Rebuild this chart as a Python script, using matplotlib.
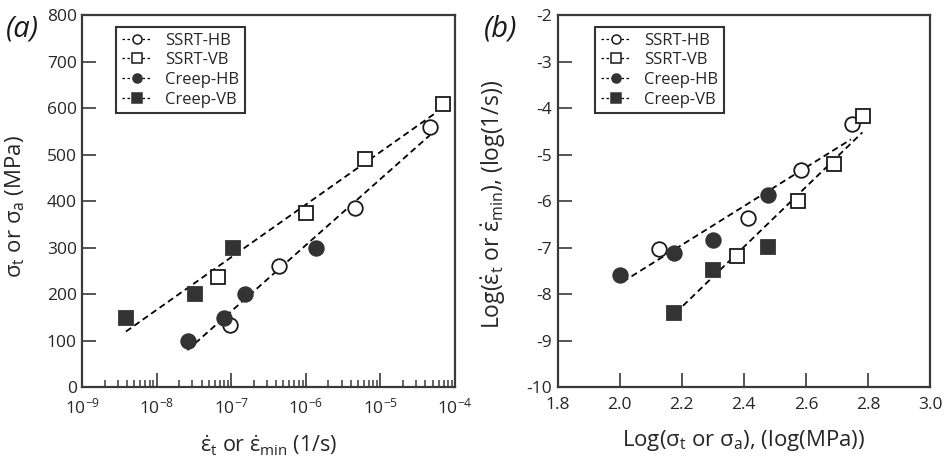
import numpy as np
import matplotlib
matplotlib.use('Agg')
import matplotlib.pyplot as plt
from matplotlib.lines import Line2D
from matplotlib.ticker import FixedLocator, LogLocator, NullFormatter

plt.rcParams['font.family'] = ['Open Sans', 'DejaVu Sans']
plt.rcParams['mathtext.default'] = 'regular'
plt.rcParams['axes.unicode_minus'] = False

# data (strain rate in 1/s, stress in MPa)
ssrt_hb_rate = [9.5e-8, 4.4e-7, 4.6e-6, 4.6e-5]
ssrt_hb_stress = [134, 260, 385, 560]
ssrt_vb_rate = [6.7e-8, 1.0e-6, 6.2e-6, 6.9e-5]
ssrt_vb_stress = [238, 375, 490, 610]
creep_hb_rate = [2.6e-8, 7.9e-8, 1.5e-7, 1.36e-6]
creep_hb_stress = [100, 150, 200, 300]
creep_vb_rate = [3.9e-9, 3.3e-8, 1.06e-7]
creep_vb_stress = [150, 200, 300]

# fitted trend lines
fit_a_upper_rate = [3.85e-9, 5.4e-5]
fit_a_upper_stress = [120, 589]
fit_a_lower_rate = [2.57e-8, 4.6e-5]
fit_a_lower_stress = [80, 542]
fit_b_hb_logs = [2.01, 2.745]
fit_b_hb_loge = [-7.73, -4.67]
fit_b_vb_logs = [2.18, 2.782]
fit_b_vb_loge = [-8.40, -4.52]

series_names = ['SSRT-HB', 'SSRT-VB', 'Creep-HB', 'Creep-VB']
x_a_ticks = [1e-9, 1e-8, 1e-7, 1e-6, 1e-5, 1e-4]
x_a_labels = ['$10^{-9}$', '$10^{-8}$', '$10^{-7}$', '$10^{-6}$', '$10^{-5}$', '$10^{-4}$']

dark = '#333333'
edge = '#1a1a1a'
txt = '#262626'
styles = [dict(marker='o', mfc='white', mec=edge),
          dict(marker='s', mfc='white', mec=edge),
          dict(marker='o', mfc=dark, mec=dark),
          dict(marker='s', mfc=dark, mec=dark)]
rates = [ssrt_hb_rate, ssrt_vb_rate, creep_hb_rate, creep_vb_rate]
stresses = [ssrt_hb_stress, ssrt_vb_stress, creep_hb_stress, creep_vb_stress]

fig = plt.figure(figsize=(9.5, 4.59), dpi=100)
ax1 = fig.add_axes([0.0866, 0.156, 0.3924, 0.811])
ax2 = fig.add_axes([0.587, 0.156, 0.392, 0.811])

dash = (0, (3.5, 2.2))
fitkw = dict(color='black', lw=1.3, linestyle=dash, zorder=1)

# panel (a)
ax1.plot(fit_a_upper_rate, fit_a_upper_stress, **fitkw)
ax1.plot(fit_a_lower_rate, fit_a_lower_stress, **fitkw)
for r, s, st in zip(rates, stresses, styles):
    ax1.plot(r, s, linestyle='none', ms=10.5, mew=1.3, zorder=3, **st)
ax1.set_xscale('log')
ax1.set_xlim(1e-9, 1e-4)
ax1.set_ylim(0, 800)
ax1.xaxis.set_major_locator(FixedLocator(x_a_ticks))
ax1.set_xticklabels(x_a_labels)
ax1.xaxis.set_minor_locator(LogLocator(base=10, subs=np.arange(2, 10)))
ax1.xaxis.set_minor_formatter(NullFormatter())
ax1.set_yticks(np.arange(0, 801, 100))
ax1.set_xlabel(r'$\dot{\varepsilon}_t$ or $\dot{\varepsilon}_{min}$ (1/s)', fontsize=15.5, labelpad=12)
ax1.set_ylabel(r'$σ_t$ or $σ_a$ (MPa)', fontsize=16)
ax1.yaxis.set_label_coords(-0.148, 0.487)

# panel (b)
ax2.plot(fit_b_hb_logs, fit_b_hb_loge, **fitkw)
ax2.plot(fit_b_vb_logs, fit_b_vb_loge, **fitkw)
for r, s, st in zip(rates, stresses, styles):
    ax2.plot(np.log10(s), np.log10(r), linestyle='none', ms=10.5, mew=1.3, zorder=3, **st)
ax2.set_xlim(1.8, 3.0)
ax2.set_ylim(-10, -2)
ax2.set_xticks(np.arange(1.8, 3.01, 0.2))
ax2.set_xticklabels(['%.1f' % v for v in np.arange(1.8, 3.01, 0.2)])
ax2.set_yticks(np.arange(-10, -1, 1))
ax2.set_xlabel(r'Log($σ_t$ or $σ_a$), (log(MPa))', fontsize=16, labelpad=11)
ax2.set_ylabel(r'Log($\dot{\varepsilon}_t$ or $\dot{\varepsilon}_{min}$), (log(1/s))', fontsize=16.5)
ax2.yaxis.set_label_coords(-0.134, 0.492)

handles = [Line2D([], [], color='black', lw=0.9, linestyle=(0, (2, 2)), ms=6.5, mew=1.1, **st)
           for st in styles]

for ax, lx in [(ax1, 0.09), (ax2, 0.10)]:
    for sp in ax.spines.values():
        sp.set_linewidth(1.6)
        sp.set_color('#3a3a3a')
    ax.tick_params(which='major', direction='in', length=10, width=1.2, labelsize=12.5,
                   colors='#3a3a3a', labelcolor=txt, pad=4)
    ax.tick_params(axis='x', which='major', pad=7)
    ax.tick_params(which='minor', direction='in', length=5, width=1.1, colors='#3a3a3a')
    ax.tick_params(top=False, right=False, which='both')
    ax.xaxis.label.set_color(txt)
    ax.yaxis.label.set_color(txt)
    leg = ax.legend(handles, series_names, loc='upper left', bbox_to_anchor=(lx, 0.969),
                    fontsize=12, frameon=True, fancybox=False, handlelength=1.8,
                    handletextpad=0.8, borderpad=0.35, labelspacing=0.22,
                    borderaxespad=0)
    leg.get_frame().set_edgecolor('black')
    leg.get_frame().set_linewidth(1.5)
    for t in leg.get_texts():
        t.set_color(txt)

fig.text(0.006, 0.968, '(a)', fontsize=21, style='italic', va='top', color='#1a1a1a')
fig.text(0.509, 0.968, '(b)', fontsize=21, style='italic', va='top', color='#1a1a1a')

fig.savefig('out.png', dpi=100)
